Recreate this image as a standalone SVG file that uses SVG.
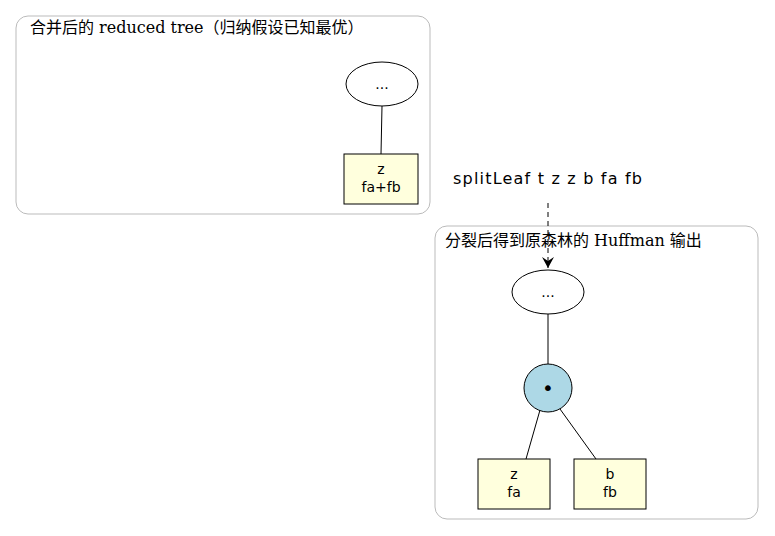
<svg xmlns="http://www.w3.org/2000/svg" width="775" height="536" viewBox="0 0 775 536">
<style>
.cl{fill:none;stroke:#bbbbbb;stroke-width:1}
.ct{font-family:"DejaVu Serif","Noto Sans CJK SC",serif;font-size:16px;fill:#000}
.t{font-family:"DejaVu Sans","Liberation Sans",sans-serif;font-size:14px;fill:#000;text-anchor:middle}
.n{fill:#fff;stroke:#000}
.b{fill:#ffffdd;stroke:#000}
.e{stroke:#000;fill:none}
</style>
<defs><marker id="a" markerWidth="12" markerHeight="12" refX="11" refY="6" orient="auto" markerUnits="userSpaceOnUse"><path d="M0,0 L11,6 L0,12 L4,6 Z" fill="#000"/></marker></defs>
<rect width="775" height="536" fill="#fff"/>
<g id="cluster1"><rect class="cl" x="16" y="16" width="414" height="198" rx="12"/><text class="ct" x="30" y="33">合并后的 reduced tree（归纳假设已知最优）</text></g>
<g id="cluster2"><rect class="cl" x="435" y="226" width="323" height="293" rx="12"/><text class="ct" x="445" y="246">分裂后得到原森林的 Huffman 输出</text></g>
<g id="edges">
<line class="e" x1="382" y1="106" x2="381" y2="154"/>
<line class="e" x1="548" y1="203" x2="548" y2="268" stroke-dasharray="5,4" marker-end="url(#a)"/>
<line class="e" x1="548" y1="314" x2="548" y2="364"/>
<line class="e" x1="540" y1="410" x2="526" y2="459"/>
<line class="e" x1="560" y1="409" x2="596" y2="459"/>
</g>
<g id="n1"><ellipse class="n" cx="382" cy="84" rx="36" ry="22"/><text class="t" x="382" y="89">...</text></g>
<g id="n2"><rect class="b" x="344" y="154" width="74" height="50"/><text class="t" x="381" y="174">z</text><text class="t" x="381" y="192">fa+fb</text></g>
<g id="lbl"><text class="t" x="453" y="184" style="font-size:16px;text-anchor:start" textLength="189">splitLeaf t z z b fa fb</text></g>
<g id="n3"><ellipse class="n" cx="548" cy="292" rx="36" ry="22"/><text class="t" x="548" y="297">...</text></g>
<g id="n4"><circle cx="548" cy="388" r="24" fill="#add8e6" stroke="#000"/><text class="t" x="548" y="395" style="font-size:20px">•</text></g>
<g id="n5"><rect class="b" x="478" y="459" width="72" height="50"/><text class="t" x="514" y="479">z</text><text class="t" x="514" y="497">fa</text></g>
<g id="n6"><rect class="b" x="574" y="459" width="72" height="50"/><text class="t" x="610" y="479">b</text><text class="t" x="610" y="497">fb</text></g>
</svg>
